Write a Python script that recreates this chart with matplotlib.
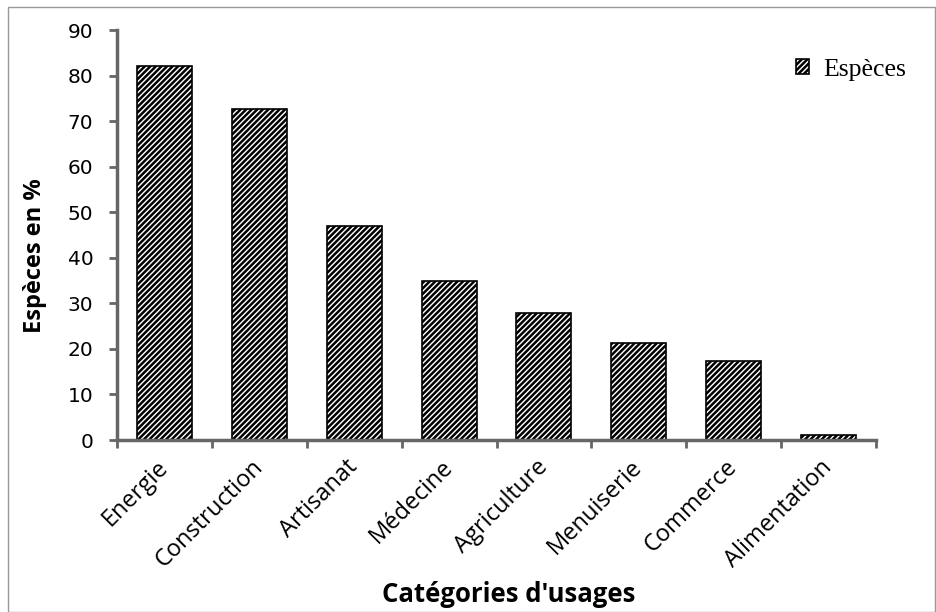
import matplotlib
matplotlib.use('Agg')
import matplotlib.pyplot as plt
import numpy as np
from matplotlib.patches import Rectangle

categories = ['Energie', 'Construction', 'Artisanat', 'Médecine',
              'Agriculture', 'Menuiserie', 'Commerce', 'Alimentation']
especes = [82.1, 72.6, 47.0, 34.9, 27.9, 21.3, 17.3, 1.1]
yticks = [0, 10, 20, 30, 40, 50, 60, 70, 80, 90]

plt.rcParams['hatch.linewidth'] = 1.8

fig = plt.figure(figsize=(9.36, 6.12), dpi=100)
ax = fig.add_axes([117 / 936, 1 - 440 / 612, (876 - 117) / 936, (440 - 30) / 612])

x = np.arange(len(categories))
ax.bar(x, especes, width=0.58, color='white', edgecolor='black',
       hatch='//////', linewidth=1.2, label='Espèces')

ax.set_xlim(-0.5, len(categories) - 0.5)
ax.set_ylim(0, 90)
ax.set_yticks(yticks)
ax.set_yticklabels([str(t) for t in yticks], fontsize=14.5, family='DejaVu Sans')

ax.set_xticks(x)
ax.set_xticklabels(categories, rotation=45, ha='right', va='center',
                   rotation_mode='anchor', fontsize=17, family='Open Sans')
ax.set_xticks(np.arange(-0.5, len(categories), 1), minor=True)
ax.tick_params(axis='x', which='major', length=0, pad=17)
ax.tick_params(axis='x', which='minor', length=6, width=2, color='#666666', direction='out')
ax.tick_params(axis='y', length=6, width=2, color='#666666', direction='out', pad=11)

for side in ['top', 'right']:
    ax.spines[side].set_visible(False)
for side in ['left', 'bottom']:
    ax.spines[side].set_color('#666666')
    ax.spines[side].set_linewidth(2.5)

ax.set_ylabel('Espèces en %', fontsize=17, fontweight='bold', family='Open Sans')
ax.yaxis.set_label_coords(-0.092, 0.449)
ax.set_xlabel("Catégories d'usages", fontsize=18.5, fontweight='bold', family='Open Sans')
ax.xaxis.set_label_coords(0.516, -0.345)

leg = ax.legend(loc='center right', bbox_to_anchor=(1.07, 0.903), frameon=False,
                prop={'family': 'Liberation Serif', 'size': 18.5},
                handlelength=0.5, handleheight=0.5, handletextpad=0.55)

# outer border
fig.patches.append(Rectangle((8 / 936, 0), 1 - 8 / 936 - 1 / 936, 1 - 7 / 612,
                             transform=fig.transFigure, fill=False,
                             edgecolor='#999999', linewidth=1))

fig.savefig('out.png', dpi=100)
